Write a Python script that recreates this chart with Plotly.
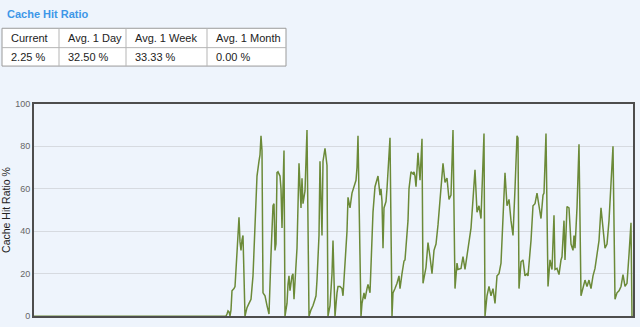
import plotly.graph_objects as go

W, H = 640, 327

# ---- data (sample time, hit ratio %) ----
t = [0, 192, 193, 194, 195, 196, 197, 198, 200, 201,
     203, 205, 206, 207, 208, 209, 211, 213, 215, 217,
     219, 221, 223, 225, 226, 227, 228, 229, 231, 233,
     235, 237, 239, 240, 241, 242, 243, 244, 246, 247,
     248, 249, 250, 251, 253, 254, 255, 256, 257, 258,
     259, 260, 263, 265, 267, 268, 269, 271, 273, 275,
     277, 279, 281, 282, 283, 285, 286, 288, 289, 291,
     293, 294, 296, 297, 298, 299, 300, 301, 303, 304,
     306, 308, 309, 311, 313, 314, 316, 318, 320, 322,
     323, 324, 327, 328, 330, 331, 333, 334, 336, 339,
     341, 342, 344, 346, 347, 348, 349, 350, 352, 353,
     356, 358, 359, 361, 363, 365, 366, 368, 370, 371,
     373, 374, 375, 377, 379, 380, 381, 382, 384, 386,
     388, 389, 392, 394, 396, 398, 400, 402, 404, 407,
     409, 411, 413, 415, 417, 419, 421, 423, 424, 427,
     429, 431, 433, 435, 437, 439, 441, 443, 445, 447,
     450, 451, 453, 455, 457, 459, 461, 463, 465, 467,
     469, 471, 473, 475, 477, 479, 481, 483, 484, 485,
     487, 489, 491, 493, 494, 497, 499, 501, 503, 505,
     507, 509, 510, 512, 514, 516, 518, 520, 521, 523,
     525, 527, 528, 530, 531, 533, 535, 537, 539, 540,
     541, 543, 545, 547, 549, 551, 553, 555, 557, 559,
     561, 563, 565, 567, 569, 571, 573, 575, 579, 581,
     583, 585, 587, 589, 591, 593, 595, 597, 598]
ratio = [0, 0, 1, 2.5, 2, 0, 3, 12, 13, 14,
         30, 46.6, 35, 31, 36, 38, 0, 4, 6, 8,
         19, 40, 66, 73, 76, 85, 78, 11, 9.6, 5,
         1, 29, 52, 53, 31, 34, 67.6, 68, 66, 60,
         41.5, 60, 78, 0, 6, 15, 19, 12, 17, 19,
         20, 8, 32, 72, 51, 65, 53, 59, 87.7, 0,
         3, 5, 8, 9.6, 17, 38, 73, 38, 73, 79,
         71, 0, 5, 11, 20, 35.6, 10, 0, 11, 14,
         14, 13, 9.6, 25, 40, 56, 51, 58, 61, 64,
         70, 85, 0, 6, 11, 8, 13, 15, 11, 49,
         61, 63, 66, 57, 60, 54, 32, 51, 54, 60,
         84, 0, 11, 13, 15.5, 19, 13, 20, 26, 26.5,
         37, 45, 60, 68, 67, 68, 66, 61, 77, 64,
         83.6, 15.5, 23, 34.7, 28, 20, 31, 34, 43, 60,
         72, 63, 65, 55, 57, 87.7, 13, 25, 22, 22.5,
         28, 22, 29, 34, 41.5, 55, 69, 49, 52, 46,
         86, 0, 9.6, 14, 9.6, 13, 6, 19, 20, 25,
         47.5, 67.6, 52, 55, 45, 38, 60, 85, 84, 13,
         25.6, 26.5, 19, 20, 19, 35.6, 52, 53, 58, 52,
         46, 57, 58, 86, 14, 26.5, 22, 47.5, 22, 22.5,
         19.6, 26.5, 28, 45, 26.5, 51.6, 51, 34, 31, 38,
         32, 51, 81, 9.6, 14, 17, 14, 17, 13, 19,
         22.5, 29, 35.6, 51, 40, 32, 34, 45, 80, 8,
         11, 12, 14, 19.6, 14, 15.5, 29, 44, 0]

y_ticks = [0, 20, 40, 60, 80, 100]
table_headers = ["Current", "Avg. 1 Day", "Avg. 1 Week", "Avg. 1 Month"]
table_values = ["2.25 %", "32.50 %", "33.33 %", "0.00 %"]
title_text = "Cache Hit Ratio"
y_title = "Cache Hit Ratio %"

# ---- figure ----
def px(x):
    return x / W

def py(y):
    return 1 - y / H

fig = go.Figure()
fig.add_trace(go.Scatter(x=t, y=ratio, mode="lines",
                         line=dict(color="#6B8A38", width=1.5), hoverinfo="skip"))

PL, PR, PT, PB = 34, 633, 102, 321
fig.update_layout(
    width=W, height=H,
    margin=dict(l=0, r=0, t=0, b=0),
    paper_bgcolor="#EEF4FC", plot_bgcolor="#EEF4FC",
    showlegend=False,
    xaxis=dict(domain=[px(PL), px(PR)], range=[0, 599], showticklabels=False,
               showgrid=False, zeroline=False, showline=True, linecolor="#4D4D4D",
               linewidth=2, mirror=True, ticks=""),
    yaxis=dict(domain=[py(PB), py(PT)], range=[0, 100], tickvals=y_ticks,
               showgrid=True, gridcolor="#D6DAE0", gridwidth=1, zeroline=False,
               showline=True, linecolor="#4D4D4D", linewidth=2, mirror=True,
               ticks="", tickfont=dict(family="Liberation Sans, Arial", size=9, color="#666666"),
               title=dict(text=y_title, font=dict(family="Liberation Sans, Arial", size=10.5, color="#222222"),
                          standoff=6)),
    font=dict(family="Liberation Sans, Arial"),
)

# title
fig.add_annotation(x=px(5), y=py(9), xref="paper", yref="paper", text="<b>" + title_text + "</b>",
                   showarrow=False, xanchor="left", yanchor="middle",
                   font=dict(size=11, color="#3D97E8", family="Liberation Sans, Arial"))

# table
col_x = [2, 59, 126, 207, 286]
row_y = [24, 44, 63]
fig.add_shape(type="rect", xref="paper", yref="paper", x0=px(col_x[0]), x1=px(col_x[-1]),
              y0=py(row_y[0]), y1=py(row_y[-1]), fillcolor="#FFFFFF",
              line=dict(color="#9A9A9A", width=1), layer="below")
fig.add_shape(type="line", xref="paper", yref="paper", x0=px(col_x[0]), x1=px(col_x[-1]),
              y0=py(row_y[1]), y1=py(row_y[1]), line=dict(color="#B5B5B5", width=1))
for cx in col_x[1:-1]:
    fig.add_shape(type="line", xref="paper", yref="paper", x0=px(cx), x1=px(cx),
                  y0=py(row_y[0]), y1=py(row_y[-1]), line=dict(color="#B5B5B5", width=1))
for i, (h, v) in enumerate(zip(table_headers, table_values)):
    fig.add_annotation(x=px(col_x[i] + 7), y=py((row_y[0] + row_y[1]) / 2), xref="paper", yref="paper",
                       text=h, showarrow=False, xanchor="left", yanchor="middle",
                       font=dict(size=11, color="#222222", family="Liberation Sans, Arial"))
    fig.add_annotation(x=px(col_x[i] + 7), y=py((row_y[1] + row_y[2]) / 2), xref="paper", yref="paper",
                       text=v, showarrow=False, xanchor="left", yanchor="middle",
                       font=dict(size=11, color="#222222", family="Liberation Sans, Arial"))

fig.write_html("out.html")
